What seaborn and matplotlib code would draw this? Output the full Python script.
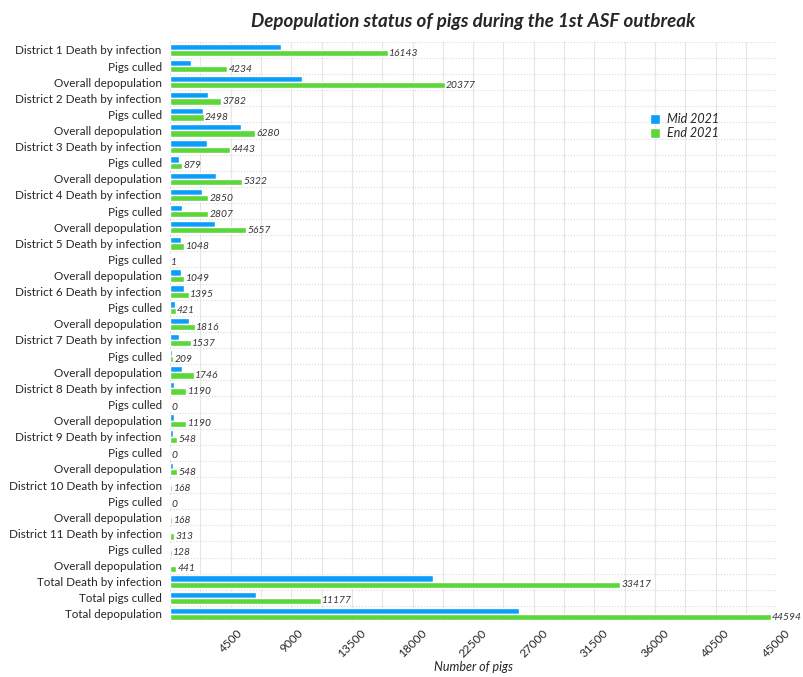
import pandas as pd
import seaborn as sns
import matplotlib.pyplot as plt
from matplotlib.ticker import MultipleLocator

districts = [f"District {i}" for i in range(1, 12)]
measures = ["Death by infection", "Pigs culled", "Overall depopulation"]

mid_2021 = [
    8230, 1590, 9820,
    2800, 2460, 5260,
    2750, 645, 3400,
    2380, 920, 3300,
    820, 0, 820,
    1020, 400, 1420,
    690, 150, 860,
    320, 0, 320,
    220, 0, 220,
    0, 0, 0,
    0, 0, 0,
    19550, 6350, 25900,
]
end_2021 = [
    16143, 4234, 20377,
    3782, 2498, 6280,
    4443, 879, 5322,
    2850, 2807, 5657,
    1048, 1, 1049,
    1395, 421, 1816,
    1537, 209, 1746,
    1190, 0, 1190,
    548, 0, 548,
    168, 0, 168,
    313, 128, 441,
    33417, 11177, 44594,
]
total_labels = ["Total Death by infection", "Total pigs culled", "Total depopulation"]

labels = []
for d in districts:
    labels += [f"{d} {measures[0]}", measures[1], measures[2]]
labels += total_labels

# unique keys so repeated row names stay separate bars
keys = [f"r{i:02d}" for i in range(len(labels))]
df = pd.DataFrame({
    "row": keys * 2,
    "value": mid_2021 + end_2021,
    "period": ["Mid 2021"] * len(keys) + ["End 2021"] * len(keys),
})

sns.set_theme(style="white")
plt.rcParams["font.family"] = ["Lato", "DejaVu Sans"]

fig = plt.figure(figsize=(8.04, 6.77), dpi=100)
ax = fig.add_axes([0.2115, 0.0812, 0.754, 0.857])

sns.barplot(
    data=df, x="value", y="row", hue="period", order=keys,
    palette={"Mid 2021": "#0a9dfb", "End 2021": "#5dd63a"},
    width=0.78, orient="h", ax=ax, saturation=1,
)

ax.bar_label(ax.containers[1], labels=[str(v) for v in end_2021],
             padding=1, fontsize=7.4, style="italic", color="#333333")

ax.set_xlim(0, 45000)
ax.set_ylim(len(keys) - 0.5, -0.5)
ax.xaxis.set_minor_locator(MultipleLocator(2250))
ax.set_xticks(range(4500, 45001, 4500))
ax.set_xticklabels([str(v) for v in range(4500, 45001, 4500)],
                   rotation=45, ha="center", fontsize=8.5)
ax.set_yticks(range(len(keys)))
ax.set_yticklabels(labels, fontsize=8.4)
ax.set_yticks([i + 0.5 for i in range(-1, len(keys))], minor=True)

ax.grid(True, axis="x", which="both", color="#e6e6e6", linewidth=0.8)
ax.grid(True, axis="y", which="minor", color="#d9d9d9", linestyle=":", linewidth=0.8)
ax.set_axisbelow(True)
for s in ax.spines.values():
    s.set_visible(False)
ax.tick_params(axis="x", which="major", length=2, pad=2)
ax.tick_params(axis="x", which="minor", length=0)
ax.tick_params(axis="y", which="both", length=0, pad=6)

ax.set_ylabel("")
ax.set_xlabel("Number of pigs", fontsize=9, style="italic")
ax.xaxis.set_label_coords(0.5, -0.068)
ax.set_title("Depopulation status of pigs during the 1st ASF outbreak",
             fontsize=13.5, fontweight="bold", style="italic", pad=11)

leg = ax.legend(loc="upper left", bbox_to_anchor=(0.773, 0.896), frameon=False,
                fontsize=9, handlelength=0.8, handleheight=0.8,
                handletextpad=0.6, labelspacing=0.15)
for t in leg.get_texts():
    t.set_style("italic")

fig.savefig("out.png", dpi=100)
